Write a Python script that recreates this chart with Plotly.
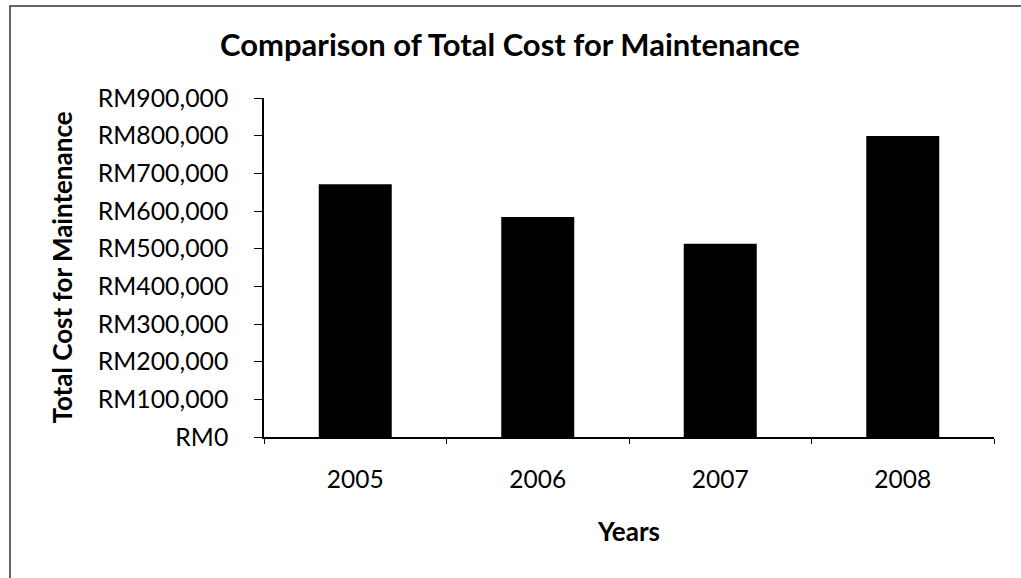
import plotly.graph_objects as go

years = ["2005", "2006", "2007", "2008"]
costs = [671000, 584000, 513000, 799000]
y_tickvals = [0, 100000, 200000, 300000, 400000, 500000, 600000, 700000, 800000, 900000]
y_ticktext = ["RM0", "RM100,000", "RM200,000", "RM300,000", "RM400,000", "RM500,000",
              "RM600,000", "RM700,000", "RM800,000", "RM900,000"]

W, H = 1021, 578
L, R, T, B = 264, 27, 98, 141
FONT = "Lato"

fig = go.Figure(go.Bar(x=years, y=costs, marker=dict(color="black", line=dict(width=0)),
                       width=0.4))

pw = W - L - R
ph = H - T - B

fig.update_layout(
    width=W, height=H,
    margin=dict(l=L, r=R, t=T, b=B),
    paper_bgcolor="white", plot_bgcolor="white",
    showlegend=False,
    font=dict(family=FONT, color="black", size=24),
    title=dict(text="<b>Comparison of Total Cost for Maintenance</b>",
               x=510 / W, xanchor="center", y=1 - 45 / H, yanchor="middle",
               font=dict(family=FONT, size=31, color="black")),
    xaxis=dict(type="category", showline=True, linecolor="black", linewidth=1.5,
               ticks="outside", ticklen=5, tickcolor="black", tickwidth=1,
               tickson="boundaries", showgrid=False, zeroline=False,
               tickfont=dict(size=24.5), ticklabelstandoff=20,
               title=dict(text="<b>Years</b>", font=dict(size=26), standoff=31)),
    yaxis=dict(range=[0, 900000], tickvals=y_tickvals, ticktext=y_ticktext,
               showline=True, linecolor="black", linewidth=1.5,
               ticks="outside", ticklen=8, tickcolor="black", tickwidth=1,
               showgrid=False, zeroline=False, tickfont=dict(size=24.8),
               ticklabelstandoff=21,
               title=dict(text="<b>Total Cost for Maintenance</b>", font=dict(size=26), standoff=18)),
)

# outer frame of the chart area (right/bottom edges lie outside the view)
fig.add_shape(type="rect", xref="paper", yref="paper",
              x0=(10 - L) / pw, x1=(W + 5 - L) / pw,
              y0=(H - B - (H + 5)) / ph, y1=(H - B - 6) / ph,
              line=dict(color="#333333", width=1.5), fillcolor="rgba(0,0,0,0)", layer="below")

fig.write_html("out.html", config={"displayModeBar": False},
               post_script="document.body.style.margin='0';document.body.style.overflow='hidden';")
